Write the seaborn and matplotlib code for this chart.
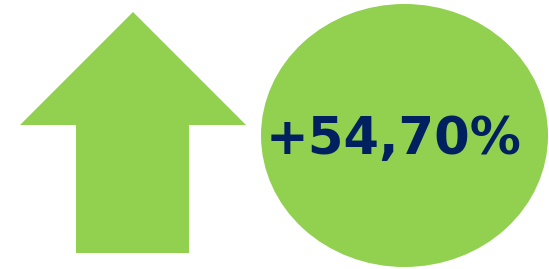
import matplotlib
matplotlib.use("Agg")
import matplotlib.pyplot as plt
import seaborn as sns
from matplotlib.patches import Polygon, Ellipse

# Data
change_pct = [54.70]
labels = ["+{:.2f}%".format(v).replace(".", ",") for v in change_pct]

sns.set_theme(style="white")
plt.rcParams['font.family'] = ['DejaVu Sans']

GREEN = "#92D050"
NAVY = "#002060"

fig = plt.figure(figsize=(5.49, 2.69), dpi=100)
ax = fig.add_axes([0, 0, 1, 1])
ax.set_xlim(0, 549)
ax.set_ylim(269, 0)
ax.axis("off")

# Up arrow
arrow = Polygon([(133, 12), (246, 125), (189, 125), (189, 253),
                 (76, 253), (76, 125), (20, 125)],
                closed=True, facecolor=GREEN, edgecolor="none")
ax.add_patch(arrow)

# Ellipse
ell = Ellipse((404.5, 135.5), 287, 263, facecolor=GREEN, edgecolor="none")
ax.add_patch(ell)

ax.text(393.5, 154, labels[0], ha="center", va="baseline",
        fontsize=36.8, fontweight="bold", color=NAVY)

fig.savefig("out.png", dpi=100)
